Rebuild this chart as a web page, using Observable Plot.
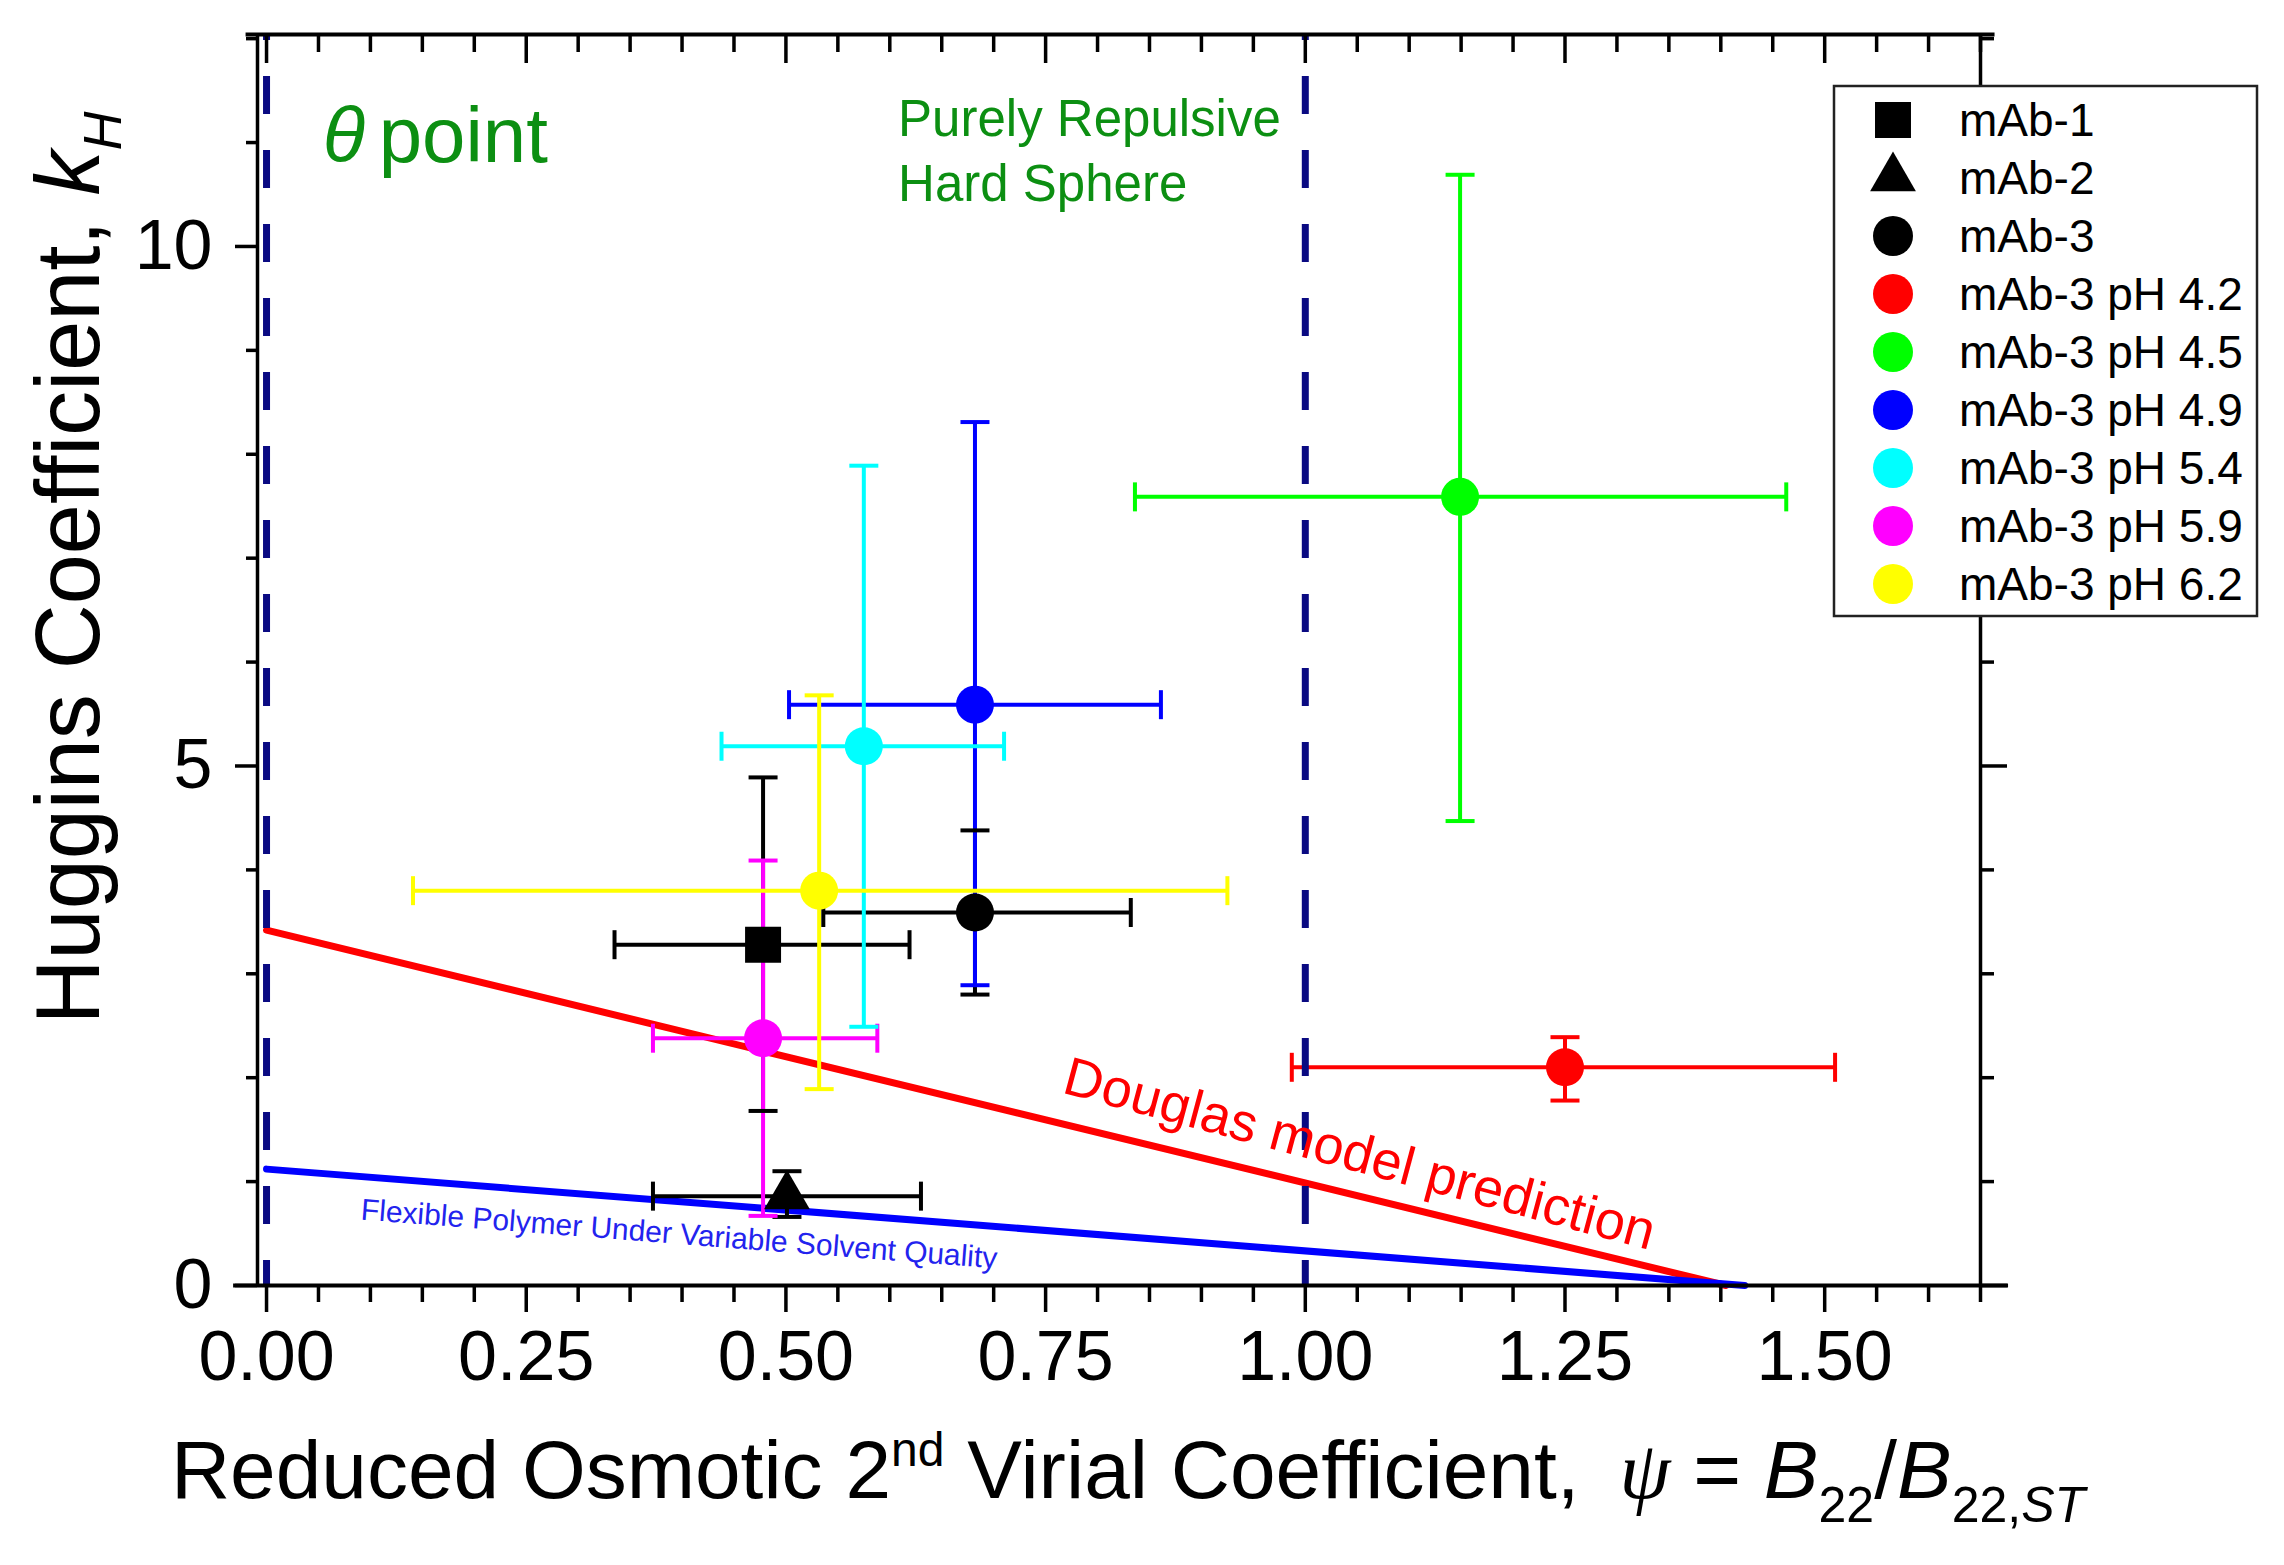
<!DOCTYPE HTML>
<html lang="en-US">
  <head>
    <meta charset="UTF-8">
    <title>Huggins coefficient vs reduced osmotic second virial coefficient</title>
    <style>
      body {margin: 0; background: #fff;}
      #graph svg {display: block; overflow: visible;}
    </style>
  </head>
  <body>
    <figure id="graph" style="margin:0"></figure>
    <script src="https://cdn.jsdelivr.net/npm/d3@7"></script>
    <script src="https://cdn.jsdelivr.net/npm/@observablehq/plot@0.6"></script>
    <script type="module" defer>
      // samples, in legend order
      const names = ['mAb-1', 'mAb-2', 'mAb-3', 'mAb-3 pH 4.2', 'mAb-3 pH 4.5', 'mAb-3 pH 4.9', 'mAb-3 pH 5.4', 'mAb-3 pH 5.9', 'mAb-3 pH 6.2'];
      const shapes = ['square', 'triangle', 'circle', 'circle', 'circle', 'circle', 'circle', 'circle', 'circle'];
      const colors = ['#000000', '#000000', '#000000', '#ff0000', '#00ff00', '#0000ff', '#00ffff', '#ff00ff', '#ffff00'];
      // psi = B22/B22,ST with its error range
      const psi = [0.478, 0.501, 0.682, 1.250, 1.149, 0.682, 0.575, 0.478, 0.532];
      const psiLow = [0.335, 0.372, 0.536, 0.987, 0.836, 0.503, 0.438, 0.372, 0.141];
      const psiHigh = [0.619, 0.630, 0.832, 1.510, 1.463, 0.861, 0.710, 0.588, 0.925];
      // Huggins coefficient kH with its error range
      const kH = [3.28, 0.86, 3.59, 2.10, 7.59, 5.59, 5.19, 2.38, 3.80];
      const kHLow = [1.68, 0.66, 2.80, 1.78, 4.47, 2.89, 2.49, 0.67, 1.89];
      const kHHigh = [4.89, 1.10, 4.38, 2.39, 10.69, 8.31, 7.89, 4.09, 5.68];
      // model lines
      const douglasPsi = [0, 1.405];
      const douglasKH = [3.42, 0];
      const flexiblePsi = [0, 1.423];
      const flexibleKH = [1.12, 0];
      // theta point and hard sphere limit
      const limits = [0, 1];
      // tick values
      const xMajor = [0, 0.25, 0.5, 0.75, 1, 1.25, 1.5];
      const xMinor = d3.range(0, 34).map(i => i * 5 / 100).filter(v => v <= 1.65 && !xMajor.some(m => Math.abs(m - v) < 1e-9));
      const yMajor = [0, 5, 10];
      const yMinor = [1, 2, 3, 4, 6, 7, 8, 9, 11, 12];

      const xDomain = [-0.0087, 1.65];
      const yDomain = [0, 12.04];
      const green = '#0c8f12';
      const font = '"Liberation Sans", Arial, Helvetica, sans-serif';

      const points = names.map((name, i) => ({
        name, shape: shapes[i],
        psi: psi[i], psiLow: psiLow[i], psiHigh: psiHigh[i],
        kH: kH[i], kHLow: kHLow[i], kHHigh: kHHigh[i]
      }));
      const bars = points.flatMap(d => [
        {name: d.name, x1: d.psiLow, y1: d.kH, x2: d.psiHigh, y2: d.kH},
        {name: d.name, x1: d.psi, y1: d.kHLow, x2: d.psi, y2: d.kHHigh}
      ]);
      const douglas = douglasPsi.map((x, i) => ({psi: x, kH: douglasKH[i]}));
      const flexible = flexiblePsi.map((x, i) => ({psi: x, kH: flexibleKH[i]}));

      // error-bar caps as custom symbols
      const capV = {draw(context, size) { const h = Math.sqrt(size / Math.PI); context.moveTo(0, -h); context.lineTo(0, h); }};
      const capH = {draw(context, size) { const h = Math.sqrt(size / Math.PI); context.moveTo(-h, 0); context.lineTo(h, 0); }};
      const noText = () => '';
      const sizeOf = {square: 20.3, triangle: 17, circle: 19};

      const svg = Plot.plot({
        width: 2284,
        height: 1565,
        marginLeft: 257,
        marginRight: 304,
        marginTop: 34,
        marginBottom: 280,
        style: {fontFamily: font, background: '#fff', color: '#000', overflow: 'visible'},
        x: {domain: xDomain, label: null},
        y: {domain: yDomain, label: null},
        color: {domain: names, range: colors},
        marks: [
          Plot.line(douglas, {x: 'psi', y: 'kH', stroke: '#ff0000', strokeWidth: 7}),
          Plot.line(flexible, {x: 'psi', y: 'kH', stroke: '#0000ff', strokeWidth: 7}),
          Plot.link(bars, {x1: 'x1', y1: 'y1', x2: 'x2', y2: 'y2', stroke: 'name', strokeWidth: 4}),
          Plot.dot(points, {x: 'psiLow', y: 'kH', symbol: capV, r: 14.5, stroke: 'name', fill: 'none', strokeWidth: 4}),
          Plot.dot(points, {x: 'psiHigh', y: 'kH', symbol: capV, r: 14.5, stroke: 'name', fill: 'none', strokeWidth: 4}),
          Plot.dot(points, {x: 'psi', y: 'kHLow', symbol: capH, r: 14.5, stroke: 'name', fill: 'none', strokeWidth: 4}),
          Plot.dot(points, {x: 'psi', y: 'kHHigh', symbol: capH, r: 14.5, stroke: 'name', fill: 'none', strokeWidth: 4}),
          Plot.ruleX(limits, {y1: yDomain[1], y2: yDomain[0], stroke: '#0a0a82', strokeWidth: 7, strokeDasharray: '38,36', strokeDashoffset: 32}),
          Plot.dot(points, {filter: d => d.shape === 'square', x: 'psi', y: 'kH', symbol: 'square', r: sizeOf.square, fill: 'name'}),
          Plot.dot(points, {filter: d => d.shape === 'triangle', x: 'psi', y: 'kH', symbol: 'triangle', r: sizeOf.triangle, fill: 'name'}),
          Plot.dot(points, {filter: d => d.shape === 'circle', x: 'psi', y: 'kH', symbol: 'circle', r: sizeOf.circle, fill: 'name'}),
          // annotations
          Plot.text(['θ'], {x: 0.054, y: 10.81, text: d => d, textAnchor: 'start', lineAnchor: 'bottom', fontSize: 78, fontStyle: 'italic', fill: green}),
          Plot.text(['point'], {x: 0.108, y: 10.81, text: d => d, textAnchor: 'start', lineAnchor: 'bottom', fontSize: 78, fill: green}),
          Plot.text(['Purely Repulsive'], {x: 0.608, y: 11.06, text: d => d, textAnchor: 'start', lineAnchor: 'bottom', fontSize: 51, fill: green}),
          Plot.text(['Hard Sphere'], {x: 0.608, y: 10.44, text: d => d, textAnchor: 'start', lineAnchor: 'bottom', fontSize: 51, fill: green}),
          Plot.text(['Douglas model prediction'], {x: 1.048, y: 1.10, text: d => d, textAnchor: 'middle', lineAnchor: 'bottom', rotate: 15, fontSize: 54, fill: '#ff0000'}),
          Plot.text(['Flexible Polymer Under Variable Solvent Quality'], {x: 0.3965, y: 0.40, text: d => d, textAnchor: 'middle', lineAnchor: 'bottom', rotate: 4.4, fontSize: 30, fill: '#2323ee'}),
          // axes on all four sides
          Plot.ruleY([yDomain[0]], {x1: xDomain[0] - 0.023, x2: xDomain[1] + 0.027, strokeWidth: 4}),
          Plot.ruleY([yDomain[1]], {x1: xDomain[0] - 0.011, x2: xDomain[1] + 0.014, strokeWidth: 4}),
          Plot.ruleX(xDomain, {y1: yDomain[0], y2: yDomain[1], strokeWidth: 3.5}),
          Plot.axisX(xMajor, {anchor: 'bottom', tickSize: 27, tickPadding: 18, strokeWidth: 3.5, fontSize: 70, tickFormat: d3.format('.2f'), label: null}),
          Plot.axisX(xMinor, {anchor: 'bottom', tickSize: 17, strokeWidth: 3.5, tickFormat: noText, label: null}),
          Plot.axisX(xMajor, {anchor: 'top', tickSize: -28, strokeWidth: 3.5, tickFormat: noText, label: null}),
          Plot.axisX(xMinor, {anchor: 'top', tickSize: -17, strokeWidth: 3.5, tickFormat: noText, label: null}),
          Plot.axisY(yMajor, {anchor: 'left', tickSize: 22, tickPadding: 23, strokeWidth: 3.5, fontSize: 70, tickFormat: d3.format('d'), label: null}),
          Plot.axisY(yMinor, {anchor: 'left', tickSize: 11, strokeWidth: 3.5, tickFormat: noText, label: null}),
          Plot.axisY(yMajor, {anchor: 'right', tickSize: 26, strokeWidth: 3.5, tickFormat: noText, label: null}),
          Plot.axisY(yMinor, {anchor: 'right', tickSize: 13, strokeWidth: 3.5, tickFormat: noText, label: null})
        ]
      });

      const root = d3.select(svg);

      // legend box
      const legend = root.append('g').attr('font-family', font).attr('text-anchor', 'start');
      legend.append('rect')
        .attr('x', 1834).attr('y', 86).attr('width', 423).attr('height', 530)
        .attr('fill', '#fff').attr('stroke', '#222').attr('stroke-width', 2.5);
      const symbolType = {square: d3.symbolSquare, triangle: d3.symbolTriangle, circle: d3.symbolCircle};
      const legendSize = {square: 20.3, triangle: 17, circle: 20};
      names.forEach((name, i) => {
        const y = 120 + 58 * i;
        legend.append('path')
          .attr('transform', `translate(1893,${y})`)
          .attr('d', d3.symbol(symbolType[shapes[i]], Math.PI * legendSize[shapes[i]] ** 2)())
          .attr('fill', colors[i]);
        legend.append('text')
          .attr('x', 1959).attr('y', y).attr('dy', '0.35em')
          .attr('text-anchor', 'start')
          .attr('font-size', 46).attr('fill', '#000')
          .text(name);
      });

      // x axis title
      const xt = root.append('text')
        .attr('x', 1128).attr('y', 1498)
        .attr('text-anchor', 'middle')
        .attr('font-family', font).attr('font-size', 82).attr('fill', '#000');
      xt.append('tspan').text('Reduced Osmotic 2');
      xt.append('tspan').attr('font-size', 48).attr('dy', -32).text('nd');
      xt.append('tspan').attr('dy', 32).text(' Virial Coefficient,');
      xt.append('tspan').attr('dx', 40).attr('font-family', '"Liberation Serif", "Times New Roman", serif').attr('font-style', 'italic').text('ψ');
      xt.append('tspan').text(' = ');
      xt.append('tspan').attr('font-style', 'italic').text('B');
      xt.append('tspan').attr('font-size', 50).attr('dy', 24).text('22');
      xt.append('tspan').attr('dy', -24).text('/');
      xt.append('tspan').attr('font-style', 'italic').text('B');
      xt.append('tspan').attr('font-size', 50).attr('dy', 24).text('22,');
      xt.append('tspan').attr('font-size', 50).attr('font-style', 'italic').text('ST');

      // y axis title
      const yt = root.append('text')
        .attr('transform', 'translate(99,568) rotate(-90)')
        .attr('text-anchor', 'middle')
        .attr('font-family', font).attr('font-size', 90).attr('fill', '#000');
      yt.append('tspan').text('Huggins Coefficient, ');
      yt.append('tspan').attr('font-style', 'italic').text('k');
      yt.append('tspan').attr('font-style', 'italic').attr('font-size', 54).attr('dy', 22).text('H');

      document.getElementById('graph').append(svg);
    </script>
  </body>
</html>
